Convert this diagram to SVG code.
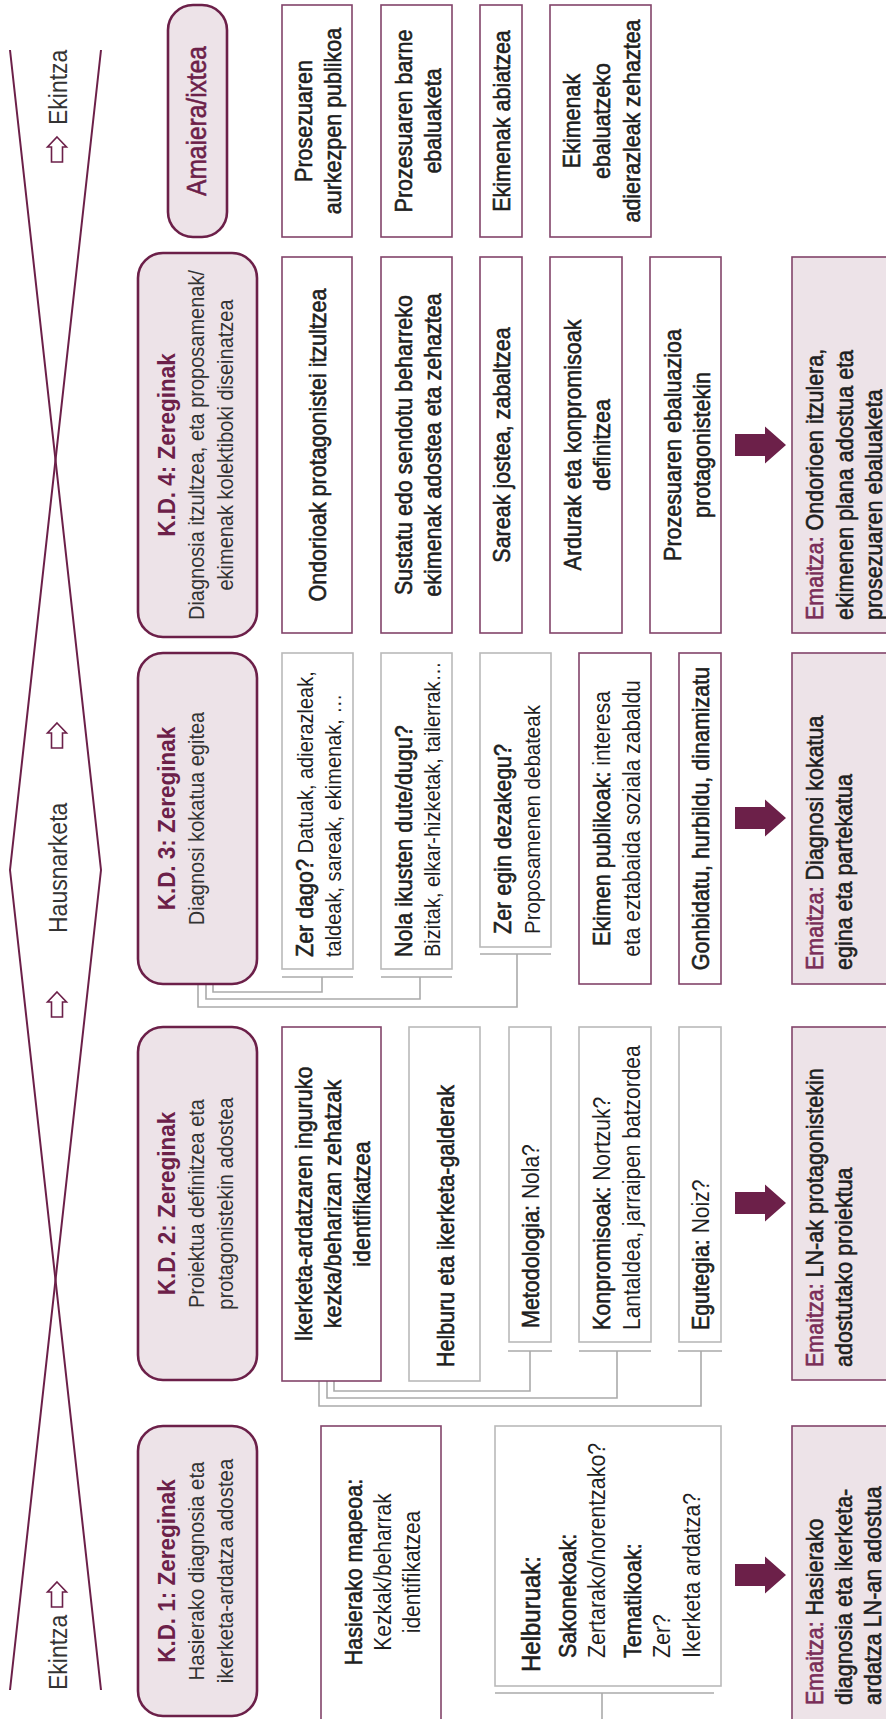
<svg xmlns="http://www.w3.org/2000/svg" width="886" height="1719" viewBox="0 0 886 1719">
<defs>
<style>
text{font-family:"Liberation Sans",Arial,sans-serif;fill:#1f1f1f}
.kd{fill:#ede3e8;stroke:#6c2049;stroke-width:2.6}
.bm{fill:#fff;stroke:#82446a;stroke-width:1.6}
.bg{fill:#fff;stroke:#bababa;stroke-width:1.6}
.em{fill:#ede3e8;stroke:#82446a;stroke-width:1.6}
.ttl{font-size:22.5px;font-weight:bold;fill:#6c2049}
.am{font-size:24.5px;fill:#6c2049;stroke:#6c2049;stroke-width:0.5}
.sub{font-size:20px;fill:#333}
.med{font-size:21.5px;stroke:#1f1f1f;stroke-width:0.55}
.reg{font-size:21px}
.rx{stroke:none;font-size:20px}
.rx21{stroke:none;font-size:21px}
.mr{fill:#7a2d58;stroke:#7a2d58}
.strip{font-size:23px;fill:#333}
.c{fill:none;stroke:#ababab;stroke-width:1.6}
.xl{fill:none;stroke:#6c2049;stroke-width:2;stroke-linejoin:round}
</style>
<path id="ua" d="M0,0 L9.5,10 H5.5 V25 H-5.5 V10 H-9.5 Z" fill="#fff" stroke="#6c2049" stroke-width="1.6"/>
<path id="ba" d="M0,-11 H30 V-18.5 L51,0 L30,18.5 V11 H0 Z" fill="#6c2049"/>
</defs>

<g id="strip">
<polyline class="xl" points="101,50 10,870 101,1690"/>
<polyline class="xl" points="10,50 101,870 10,1690"/>
<text class="strip" transform="translate(67,125) rotate(-90) scale(1,1.1)">Ekintza</text>
<use href="#ua" x="57" y="137"/>
<use href="#ua" x="57" y="723"/>
<text class="strip" transform="translate(67,933) rotate(-90) scale(1,1.1)">Hausnarketa</text>
<use href="#ua" x="57" y="992"/>
<use href="#ua" x="57" y="1582"/>
<text class="strip" transform="translate(67,1690) rotate(-90) scale(1,1.1)">Ekintza</text>
</g>

<g id="connectors">
<path class="c" d="M282,977 H353 M322,977 V992 H213 V984"/>
<path class="c" d="M381,977 H452 M420,977 V999 H206 V984"/>
<path class="c" d="M480,954 H551 M517,954 V1007 H198 V984"/>
<path class="c" d="M508,1351 H552 M530,1351 V1391 H334 V1381"/>
<path class="c" d="M579,1351 H651 M617,1351 V1398 H327 V1381"/>
<path class="c" d="M678,1351 H722 M701,1351 V1406 H319 V1381"/>
<path class="c" d="M495,1693 H714 M602,1693 V1719"/>
<use href="#ba" x="735" y="445"/>
<use href="#ba" x="735" y="818"/>
<use href="#ba" x="735" y="1203"/>
<use href="#ba" x="735" y="1575"/>
</g>

<g id="amaiera">
<rect class="kd" x="168" y="5" width="59" height="232" rx="25"/>
<text class="am" text-anchor="middle" transform="translate(206,121) rotate(-90) scale(1,1.1)">Amaiera/ixtea</text>
</g>
<g id="a1">
<rect class="bm" x="282" y="5" width="70" height="232"/>
<text class="med" text-anchor="middle" transform="translate(312,121) rotate(-90) scale(1,1.1)">Prosezuaren</text>
<text class="med" text-anchor="middle" transform="translate(341,121) rotate(-90) scale(1,1.1)">aurkezpen publikoa</text>
</g>
<g id="a2">
<rect class="bm" x="381" y="5" width="71" height="232"/>
<text class="med" text-anchor="middle" transform="translate(412,121) rotate(-90) scale(1,1.1)">Prozesuaren barne</text>
<text class="med" text-anchor="middle" transform="translate(441,121) rotate(-90) scale(1,1.1)">ebaluaketa</text>
</g>
<g id="a3">
<rect class="bm" x="480" y="5" width="42" height="232"/>
<text class="med" text-anchor="middle" transform="translate(510,121) rotate(-90) scale(1,1.1)">Ekimenak abiatzea</text>
</g>
<g id="a4">
<rect class="bm" x="550" y="5" width="101" height="232"/>
<text class="med" text-anchor="middle" transform="translate(580,121) rotate(-90) scale(1,1.1)">Ekimenak</text>
<text class="med" text-anchor="middle" transform="translate(610,121) rotate(-90) scale(1,1.1)">ebaluatzeko</text>
<text class="med" text-anchor="middle" transform="translate(640,121) rotate(-90) scale(1,1.1)">adierazleak zehaztea</text>
</g>

<g id="kd4">
<rect class="kd" x="138" y="253" width="119" height="384" rx="25"/>
<text class="ttl" text-anchor="middle" transform="translate(175,445) rotate(-90) scale(1,1.1)">K.D. 4: Zereginak</text>
<text class="sub" text-anchor="middle" transform="translate(204,445) rotate(-90) scale(1,1.1)">Diagnosia itzultzea, eta proposamenak/</text>
<text class="sub" text-anchor="middle" transform="translate(233,445) rotate(-90) scale(1,1.1)">ekimenak kolektiboki diseinatzea</text>
</g>
<g id="k4a">
<rect class="bm" x="282" y="257" width="70" height="376"/>
<text class="med" text-anchor="middle" transform="translate(326,445) rotate(-90) scale(1,1.1)">Ondorioak protagonistei itzultzea</text>
</g>
<g id="k4b">
<rect class="bm" x="381" y="257" width="71" height="376"/>
<text class="med" text-anchor="middle" transform="translate(412,445) rotate(-90) scale(1,1.1)">Sustatu edo sendotu beharreko</text>
<text class="med" text-anchor="middle" transform="translate(441,445) rotate(-90) scale(1,1.1)">ekimenak adostea eta zehaztea</text>
</g>
<g id="k4c">
<rect class="bm" x="480" y="257" width="42" height="376"/>
<text class="med" text-anchor="middle" transform="translate(510,445) rotate(-90) scale(1,1.1)">Sareak jostea, zabaltzea</text>
</g>
<g id="k4d">
<rect class="bm" x="550" y="257" width="72" height="376"/>
<text class="med" text-anchor="middle" transform="translate(581,445) rotate(-90) scale(1,1.1)">Ardurak eta konpromisoak</text>
<text class="med" text-anchor="middle" transform="translate(610,445) rotate(-90) scale(1,1.1)">definitzea</text>
</g>
<g id="k4e">
<rect class="bm" x="650" y="257" width="71" height="376"/>
<text class="med" text-anchor="middle" transform="translate(681,445) rotate(-90) scale(1,1.1)">Prozesuaren ebaluazioa</text>
<text class="med" text-anchor="middle" transform="translate(710,445) rotate(-90) scale(1,1.1)">protagonistekin</text>
</g>
<g id="e4">
<rect class="em" x="792" y="257" width="100" height="376"/>
<text class="med" transform="translate(823,620) rotate(-90) scale(1,1.1)"><tspan class="mr">Emaitza:</tspan> Ondorioen itzulera,</text>
<text class="med" transform="translate(853,620) rotate(-90) scale(1,1.1)">ekimenen plana adostua eta</text>
<text class="med" transform="translate(882,620) rotate(-90) scale(1,1.1)">prosezuaren ebaluaketa</text>
</g>

<g id="kd3">
<rect class="kd" x="138" y="653" width="119" height="331" rx="25"/>
<text class="ttl" text-anchor="middle" transform="translate(175,818.5) rotate(-90) scale(1,1.1)">K.D. 3: Zereginak</text>
<text class="sub" text-anchor="middle" transform="translate(204,818.5) rotate(-90) scale(1,1.1)">Diagnosi kokatua egitea</text>
</g>
<g id="k3a">
<rect class="bg" x="282" y="653" width="71" height="316"/>
<text class="med" transform="translate(313,957) rotate(-90) scale(1,1.1)">Zer dago?<tspan class="rx"> Datuak, adierazleak,</tspan></text>
<text class="reg" style="font-size:20px" transform="translate(341,957) rotate(-90) scale(1,1.1)">taldeak, sareak, ekimenak, …</text>
</g>
<g id="k3b">
<rect class="bg" x="381" y="653" width="71" height="316"/>
<text class="med" transform="translate(412,957) rotate(-90) scale(1,1.1)">Nola ikusten dute/dugu?</text>
<text class="reg" style="font-size:20px" transform="translate(440,957) rotate(-90) scale(1,1.1)">Bizitak, elkar-hizketak, tailerrak…</text>
</g>
<g id="k3c">
<rect class="bg" x="480" y="653" width="71" height="294"/>
<text class="med" transform="translate(511,934) rotate(-90) scale(1,1.1)">Zer egin dezakegu?</text>
<text class="reg" style="font-size:20.5px" transform="translate(540,934) rotate(-90) scale(1,1.1)">Proposamenen debateak</text>
</g>
<g id="k3d">
<rect class="bm" x="579" y="653" width="72" height="331"/>
<text class="med" text-anchor="middle" transform="translate(610,818.5) rotate(-90) scale(1,1.1)">Ekimen publikoak:<tspan class="rx21"> interesa</tspan></text>
<text class="reg" text-anchor="middle" transform="translate(640,818.5) rotate(-90) scale(1,1.1)">eta eztabaida soziala zabaldu</text>
</g>
<g id="k3e">
<rect class="bm" x="679" y="653" width="42" height="331"/>
<text class="med" text-anchor="middle" transform="translate(709,818.5) rotate(-90) scale(1,1.1)">Gonbidatu, hurbildu, dinamizatu</text>
</g>
<g id="e3">
<rect class="em" x="792" y="653" width="100" height="331"/>
<text class="med" transform="translate(823,970) rotate(-90) scale(1,1.1)"><tspan class="mr">Emaitza:</tspan> Diagnosi kokatua</text>
<text class="med" transform="translate(852,970) rotate(-90) scale(1,1.1)">egina eta partekatua</text>
</g>

<g id="kd2">
<rect class="kd" x="138" y="1027" width="119" height="353" rx="25"/>
<text class="ttl" text-anchor="middle" transform="translate(175,1203.5) rotate(-90) scale(1,1.1)">K.D. 2: Zereginak</text>
<text class="sub" text-anchor="middle" transform="translate(204,1203.5) rotate(-90) scale(1,1.1)">Proiektua definitzea eta</text>
<text class="sub" text-anchor="middle" transform="translate(233,1203.5) rotate(-90) scale(1,1.1)">protagonistekin adostea</text>
</g>
<g id="k2a">
<rect class="bm" x="282" y="1027" width="99" height="354"/>
<text class="med" text-anchor="middle" transform="translate(312,1204) rotate(-90) scale(1,1.1)">Ikerketa-ardatzaren inguruko</text>
<text class="med" text-anchor="middle" transform="translate(341,1204) rotate(-90) scale(1,1.1)">kezka/beharizan zehatzak</text>
<text class="med" text-anchor="middle" transform="translate(370,1204) rotate(-90) scale(1,1.1)">identifikatzea</text>
</g>
<g id="k2b">
<rect class="bg" x="409" y="1027" width="71" height="354"/>
<text class="med" transform="translate(454,1367) rotate(-90) scale(1,1.1)">Helburu eta ikerketa-galderak</text>
</g>
<g id="k2c">
<rect class="bg" x="509" y="1027" width="42" height="315"/>
<text class="med" transform="translate(539,1328) rotate(-90) scale(1,1.1)">Metodologia:<tspan class="rx21"> Nola?</tspan></text>
</g>
<g id="k2d">
<rect class="bg" x="579" y="1027" width="72" height="315"/>
<text class="med" transform="translate(610,1330) rotate(-90) scale(1,1.1)">Konpromisoak:<tspan class="rx21"> Nortzuk?</tspan></text>
<text class="reg" transform="translate(640,1330) rotate(-90) scale(1,1.1)">Lantaldea, jarraipen batzordea</text>
</g>
<g id="k2e">
<rect class="bg" x="679" y="1027" width="42" height="315"/>
<text class="med" transform="translate(709,1330) rotate(-90) scale(1,1.1)">Egutegia:<tspan class="rx21"> Noiz?</tspan></text>
</g>
<g id="e2">
<rect class="em" x="792" y="1027" width="100" height="353"/>
<text class="med" transform="translate(823,1367) rotate(-90) scale(1,1.1)"><tspan class="mr">Emaitza:</tspan> LN-ak protagonistekin</text>
<text class="med" transform="translate(852,1367) rotate(-90) scale(1,1.1)">adostutako proiektua</text>
</g>

<g id="kd1">
<rect class="kd" x="138" y="1426" width="119" height="290" rx="25"/>
<text class="ttl" text-anchor="middle" transform="translate(175,1571) rotate(-90) scale(1,1.1)">K.D. 1: Zereginak</text>
<text class="sub" text-anchor="middle" style="font-size:20.4px" transform="translate(204,1571) rotate(-90) scale(1,1.1)">Hasierako diagnosia eta</text>
<text class="sub" text-anchor="middle" style="font-size:20.4px" transform="translate(233,1571) rotate(-90) scale(1,1.1)">ikerketa-ardatza adostea</text>
</g>
<g id="k1a">
<rect class="bm" x="321" y="1426" width="120" height="300"/>
<text class="med" text-anchor="middle" transform="translate(362,1572) rotate(-90) scale(1,1.1)">Hasierako mapeoa:</text>
<text class="reg" text-anchor="middle" transform="translate(391,1572) rotate(-90) scale(1,1.1)">Kezkak/beharrak</text>
<text class="reg" text-anchor="middle" transform="translate(420,1572) rotate(-90) scale(1,1.1)">identifikatzea</text>
</g>
<g id="k1b">
<rect class="bg" x="495" y="1426" width="226" height="260"/>
<text class="med" style="font-size:24px" transform="translate(540,1672) rotate(-90) scale(1,1.1)">Helburuak:</text>
<text class="med" transform="translate(576,1658) rotate(-90) scale(1,1.1)">Sakonekoak:</text>
<text class="reg" style="font-size:21.4px" transform="translate(605,1658) rotate(-90) scale(1,1.1)">Zertarako/norentzako?</text>
<text class="med" transform="translate(641,1658) rotate(-90) scale(1,1.1)">Tematikoak:</text>
<text class="reg" style="font-size:21.4px" transform="translate(670,1658) rotate(-90) scale(1,1.1)">Zer?</text>
<text class="reg" style="font-size:21.4px" transform="translate(700,1658) rotate(-90) scale(1,1.1)">Ikerketa ardatza?</text>
</g>
<g id="e1">
<rect class="em" x="792" y="1426" width="100" height="300"/>
<text class="med" transform="translate(823,1705) rotate(-90) scale(1,1.1)"><tspan class="mr">Emaitza:</tspan> Hasierako</text>
<text class="med" transform="translate(852,1705) rotate(-90) scale(1,1.1)">diagnosia eta ikerketa-</text>
<text class="med" transform="translate(881,1705) rotate(-90) scale(1,1.1)">ardatza LN-an adostua</text>
</g>
</svg>
